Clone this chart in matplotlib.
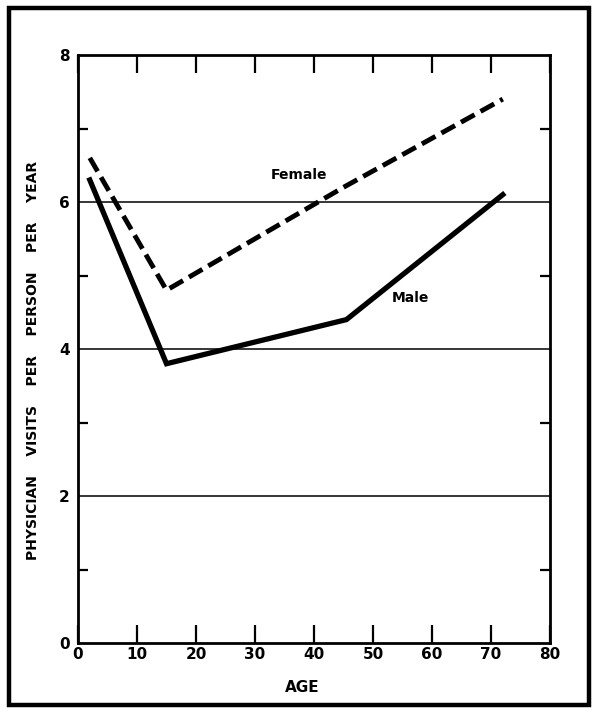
import matplotlib
matplotlib.use("Agg")
import matplotlib.pyplot as plt
from matplotlib.patches import Rectangle

# data
age_female = [2, 15, 45, 72]
visits_female = [6.6, 4.8, 6.2, 7.4]
age_male = [2, 15, 45.5, 72]
visits_male = [6.3, 3.8, 4.4, 6.1]

x_ticks = [0, 10, 20, 30, 40, 50, 60, 70, 80]
y_ticks = [0, 2, 4, 6, 8]
y_minor = [1, 3, 5, 7]
grid_levels = [2, 4, 6]

plt.rcParams['font.family'] = ['DejaVu Sans']
plt.rcParams['font.weight'] = 'bold'

fig = plt.figure(figsize=(5.97, 7.13), dpi=100)
ax = fig.add_axes([78/597, 1-643/713, 472/597, 588/713])

# outer border round the whole plate
fig.patches.append(Rectangle((9/597, 8/713), 580/597, 697/713, transform=fig.transFigure,
                             fill=False, lw=3.2, color='black'))

for g in grid_levels:
    ax.axhline(g, color='black', lw=1.1, zorder=1)

ax.plot(age_female, visits_female, color='black', lw=3.5, dashes=(3.2, 1.4),
        solid_capstyle='butt', zorder=3)
ax.plot(age_male, visits_male, color='black', lw=3.8, solid_joinstyle='miter', zorder=3)

ax.text(37.5, 6.37, 'Female', fontsize=10, fontweight='bold', ha='center', va='center')
ax.text(56.3, 4.69, 'Male', fontsize=10, fontweight='bold', ha='center', va='center')

ax.set_xlim(0, 80)
ax.set_ylim(0, 8)
ax.set_xticks(x_ticks)
ax.set_yticks(y_ticks)
ax.set_yticks(y_minor, minor=True)

for s in ax.spines.values():
    s.set_linewidth(2.0)

ax.tick_params(axis='x', which='major', direction='in', length=13, width=1.6,
               top=True, labelsize=11, pad=3)
ax.tick_params(axis='y', which='major', length=0, labelsize=11, pad=6)
ax.tick_params(axis='y', which='minor', direction='in', length=7, width=1.6,
               left=True, right=True)
for lbl in ax.get_xticklabels() + ax.get_yticklabels():
    lbl.set_fontweight('bold')

fig.text(33/597, 1-360/713, 'PHYSICIAN    VISITS    PER    PERSON    PER    YEAR',
         rotation=90, ha='center', va='center', fontsize=10, fontweight='bold')
fig.text(302/597, 1-688/713, 'AGE', ha='center', va='center', fontsize=11,
         fontweight='bold')

fig.savefig('out.png', dpi=100)
